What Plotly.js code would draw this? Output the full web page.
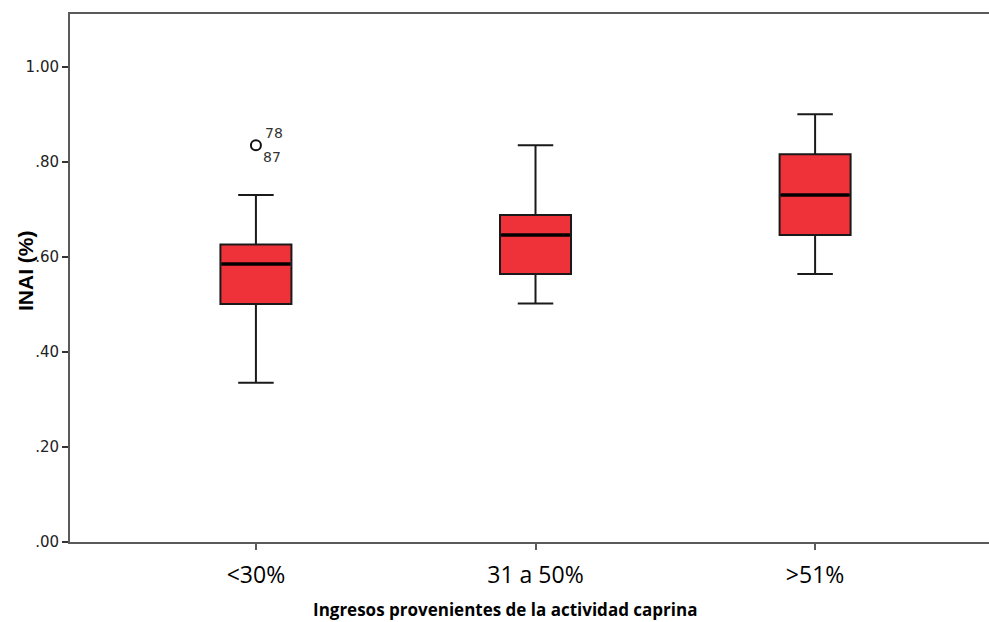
<!DOCTYPE html>
<html>
<head>
<meta charset="utf-8">
<script src="https://cdn.plot.ly/plotly-3.0.1.min.js"></script>
<style>html,body{margin:0;padding:0;background:#fff;overflow:hidden;}</style>
</head>
<body>
<div id="chart" style="width:989px;height:622px;"></div>
<script>
// Data
const categories = ['<30%', '31 a 50%', '>51%'];
const lowerWhisker = [0.335, 0.502, 0.564];
const q1Values = [0.501, 0.564, 0.646];
const medianValues = [0.585, 0.646, 0.730];
const q3Values = [0.626, 0.688, 0.816];
const upperWhisker = [0.730, 0.835, 0.900];
const outlierCategory = ['<30%'];
const outlierValues = [0.835];
const outlierLabelsAbove = ['78'];
const outlierLabelsBelow = ['87'];
const yTickValues = [0, 0.2, 0.4, 0.6, 0.8, 1.0];
const yTickLabels = ['.00', '.20', '.40', '.60', '.80', '1.00'];

const boxTrace = {
  type: 'box',
  x: categories,
  q1: q1Values,
  median: medianValues,
  q3: q3Values,
  lowerfence: lowerWhisker,
  upperfence: upperWhisker,
  width: 0.254,
  whiskerwidth: 0.5,
  fillcolor: 'rgb(239,50,58)',
  line: {color: '#1a1a1a', width: 2},
  hoverinfo: 'skip',
  showlegend: false
};

const medianTrace = {
  type: 'scatter',
  mode: 'markers',
  x: categories,
  y: medianValues,
  marker: {symbol: 'line-ew', size: 49, line: {color: '#000', width: 3.5}},
  hoverinfo: 'skip',
  showlegend: false
};

const outlierTrace = {
  type: 'scatter',
  mode: 'markers',
  x: outlierCategory,
  y: outlierValues,
  marker: {symbol: 'circle-open', size: 10, color: '#111', line: {width: 2, color: '#111'}},
  hoverinfo: 'skip',
  showlegend: false
};

const annotations = [];
outlierCategory.forEach((c, i) => {
  annotations.push({x: c, y: outlierValues[i], xref: 'x', yref: 'y', text: outlierLabelsAbove[i],
    showarrow: false, xshift: 18, yshift: 12, font: {family: 'DejaVu Sans', size: 14, color: '#333'}});
  annotations.push({x: c, y: outlierValues[i], xref: 'x', yref: 'y', text: outlierLabelsBelow[i],
    showarrow: false, xshift: 16, yshift: -12, font: {family: 'DejaVu Sans', size: 14, color: '#333'}});
});
annotations.push({
  text: '<b>Ingresos provenientes de la actividad caprina</b>',
  xref: 'paper', yref: 'paper', x: (505 - 70) / 919, y: (542 - 609) / 528,
  xanchor: 'center', yanchor: 'middle', showarrow: false,
  font: {family: 'Open Sans', size: 17, color: '#000'}
});
annotations.push({
  text: '<b>INAI (%)</b>',
  xref: 'paper', yref: 'paper', x: (25 - 70) / 919, y: (542 - 271) / 528,
  xanchor: 'center', yanchor: 'middle', showarrow: false, textangle: -90,
  font: {family: 'Liberation Sans, Arial', size: 21, color: '#000'}
});

const layout = {
  width: 989,
  height: 622,
  margin: {l: 70, r: 0, t: 14, b: 80},
  paper_bgcolor: '#fff',
  plot_bgcolor: '#fff',
  showlegend: false,
  xaxis: {
    type: 'category',
    range: [-0.665, 2.622],
    showline: true, mirror: true, linecolor: '#5a5a5a', linewidth: 2,
    ticks: 'outside', ticklen: 6, tickwidth: 2, tickcolor: '#5a5a5a',
    showgrid: false, zeroline: false,
    ticklabelstandoff: 5,
    tickfont: {family: 'Open Sans', size: 23, color: '#000'}
  },
  yaxis: {
    range: [0, 1.111],
    tickvals: yTickValues,
    ticktext: yTickLabels,
    showline: true, mirror: false, linecolor: '#5a5a5a', linewidth: 2,
    ticks: 'outside', ticklen: 6, tickwidth: 2, tickcolor: '#333',
    showgrid: false, zeroline: false,
    tickfont: {family: 'DejaVu Sans', size: 15, color: '#222'}
  },
  annotations: annotations
};

Plotly.newPlot('chart', [boxTrace, medianTrace, outlierTrace], layout, {displayModeBar: false, staticPlot: true});
</script>
</body>
</html>
